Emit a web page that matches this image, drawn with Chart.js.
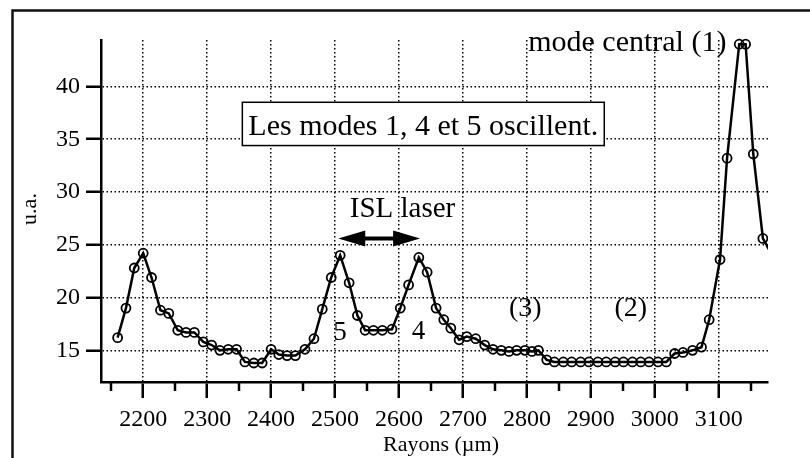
<!DOCTYPE html>
<html>
<head>
<meta charset="utf-8">
<script src="https://cdn.jsdelivr.net/npm/chart.js@4.4.1/dist/chart.umd.min.js"></script>
<style>
  html, body { margin: 0; padding: 0; background: #fff; }
  #wrap { width: 810px; height: 458px; }
</style>
</head>
<body>
<div id="wrap"><canvas id="chart" width="810" height="458"></canvas></div>
<script>
'use strict';

// radial position (µm) and signal (u.a.) of each sample
var radii = [2160, 2173, 2186, 2200, 2213, 2227, 2240, 2254, 2267, 2280,
	2294, 2307, 2320, 2333, 2346, 2359, 2373, 2386, 2400, 2412,
	2425, 2438, 2453, 2467, 2480, 2494, 2508, 2522, 2535, 2547,
	2560, 2574, 2589, 2602, 2615, 2631, 2644, 2658, 2670, 2681,
	2694, 2706, 2720, 2734, 2747, 2760, 2772, 2784, 2797, 2808,
	2818, 2831, 2843, 2857, 2870, 2884, 2897, 2911, 2924, 2938,
	2951, 2965, 2978, 2991, 3005, 3018, 3031, 3044, 3059, 3073,
	3085, 3102, 3113, 3132, 3142, 3154, 3169, 3180];
var intensity = [16.2, 19.0, 22.8, 24.2, 21.9, 18.8, 18.5, 16.9, 16.7, 16.7,
	15.8, 15.5, 15.0, 15.1, 15.1, 13.9, 13.8, 13.8, 15.1, 14.6,
	14.5, 14.5, 15.1, 16.1, 18.9, 21.9, 24.0, 21.4, 18.3, 16.9,
	16.9, 16.9, 17.0, 19.0, 21.2, 23.8, 22.4, 19.0, 17.9, 17.1,
	16.0, 16.3, 16.1, 15.5, 15.1, 15.0, 14.9, 15.0, 15.0, 14.9,
	15.0, 14.1, 13.9, 13.9, 13.9, 13.9, 13.9, 13.9, 13.9, 13.9,
	13.9, 13.9, 13.9, 13.9, 13.9, 13.9, 14.7, 14.8, 15.0, 15.3,
	17.9, 23.6, 33.2, 44.0, 44.0, 33.6, 25.6, 24.4];

var xTicks = [2200, 2300, 2400, 2500, 2600, 2700, 2800, 2900, 3000, 3100];
var xMinorTicks = [2150, 2250, 2350, 2450, 2550, 2650, 2750, 2850, 2950, 3050, 3150];
var yTicks = [15, 20, 25, 30, 35, 40];

var SERIF = '"Liberation Serif", "Times New Roman", serif';

// text notes placed in data units: [text, x, y, size, align]
var notes = [
	['mode central (1)', 3112, 43.4, 30, 'right'],
	['ISL laser', 2523, 27.6, 29, 'left'],
	['5', 2497, 15.95, 27, 'left'],
	['4', 2620, 16.1, 27, 'left'],
	['(3)', 2772, 18.3, 28, 'left'],
	['(2)', 2937, 18.3, 28, 'left']
];
var boxNote = ['Les modes 1, 4 et 5 oscillent.', 2355, 34.4, 38.5, 30];
var islArrow = [2505, 2633, 25.6];

var decor = {
	id: 'decor',
	beforeDraw: function(chart) {
		var ctx = chart.ctx;
		ctx.save();
		ctx.fillStyle = '#fff';
		ctx.fillRect(0, 0, chart.width, chart.height);
		// outer frame, left and top edges
		ctx.strokeStyle = '#111';
		ctx.lineWidth = 2.5;
		ctx.beginPath();
		ctx.moveTo(12.5, chart.height);
		ctx.lineTo(12.5, 10.5);
		ctx.lineTo(chart.width, 10.5);
		ctx.stroke();
		ctx.restore();
	},
	afterDraw: function(chart) {
		var ctx = chart.ctx;
		var xs = chart.scales.x, ys = chart.scales.y;
		var area = chart.chartArea;
		ctx.save();

		// minor ticks under the x axis
		ctx.strokeStyle = '#000';
		ctx.lineWidth = 2.5;
		xMinorTicks.forEach(function(v) {
			var px = Math.round(xs.getPixelForValue(v));
			ctx.beginPath();
			ctx.moveTo(px, area.bottom);
			ctx.lineTo(px, area.bottom + 9);
			ctx.stroke();
		});

		ctx.fillStyle = '#000';
		ctx.textBaseline = 'alphabetic';
		notes.forEach(function(n) {
			ctx.font = n[3] + 'px ' + SERIF;
			ctx.textAlign = n[4];
			ctx.fillText(n[0], xs.getPixelForValue(n[1]), ys.getPixelForValue(n[2]));
		});

		// boxed remark
		ctx.font = boxNote[4] + 'px ' + SERIF;
		ctx.textAlign = 'left';
		var bx = xs.getPixelForValue(boxNote[1]);
		var by0 = ys.getPixelForValue(boxNote[3]);
		var by1 = ys.getPixelForValue(boxNote[2]);
		var bw = ctx.measureText(boxNote[0]).width + 12;
		ctx.fillStyle = '#fff';
		ctx.fillRect(bx, by0, bw, by1 - by0);
		ctx.strokeStyle = '#000';
		ctx.lineWidth = 1.5;
		ctx.strokeRect(bx, by0, bw, by1 - by0);
		ctx.fillStyle = '#000';
		ctx.fillText(boxNote[0], bx + 6, by1 - 11);

		// double arrow between the two side modes
		var ax0 = xs.getPixelForValue(islArrow[0]);
		var ax1 = xs.getPixelForValue(islArrow[1]);
		var ay = ys.getPixelForValue(islArrow[2]);
		ctx.lineWidth = 4;
		ctx.beginPath();
		ctx.moveTo(ax0 + 20, ay);
		ctx.lineTo(ax1 - 20, ay);
		ctx.stroke();
		ctx.beginPath();
		ctx.moveTo(ax0, ay);
		ctx.lineTo(ax0 + 27, ay - 8);
		ctx.lineTo(ax0 + 27, ay + 8);
		ctx.closePath();
		ctx.moveTo(ax1, ay);
		ctx.lineTo(ax1 - 27, ay - 8);
		ctx.lineTo(ax1 - 27, ay + 8);
		ctx.closePath();
		ctx.fill();

		// axis titles
		ctx.font = '22px ' + SERIF;
		ctx.textAlign = 'center';
		ctx.textBaseline = 'middle';
		ctx.fillText('Rayons (µm)', 441, 445);
		ctx.translate(30, 209);
		ctx.rotate(-Math.PI / 2);
		ctx.fillText('u.a.', 0, 0);
		ctx.restore();
	}
};

var ctx = document.getElementById('chart').getContext('2d');
var chart = new Chart(ctx, {
	type: 'line',
	data: {
		datasets: [{
			data: radii.map(function(r, i) { return {x: r, y: intensity[i]}; }),
			borderColor: '#000',
			borderWidth: 2.5,
			pointRadius: function(c) { return c.dataIndex === radii.length - 1 ? 0 : 4.5; },
			pointBorderWidth: 1.8,
			pointBorderColor: '#000',
			pointBackgroundColor: 'rgba(0,0,0,0)',
			tension: 0,
			clip: {left: 0, top: 8, right: 0, bottom: 0}
		}]
	},
	options: {
		responsive: false,
		animation: false,
		devicePixelRatio: 1,
		layout: {padding: {left: 14, right: 42, top: 40, bottom: 0}},
		plugins: {
			legend: {display: false},
			tooltip: {enabled: false}
		},
		scales: {
			x: {
				type: 'linear',
				min: 2134,
				max: 3177,
				afterBuildTicks: function(scale) {
					scale.ticks = xTicks.map(function(v) { return {value: v}; });
				},
				afterFit: function(scale) { scale.height = 76; },
				ticks: {
					color: '#000',
					padding: 7,
					maxRotation: 0,
					font: {family: SERIF, size: 24},
					callback: function(v) { return String(v); }
				},
				grid: {
					color: '#000',
					lineWidth: 1.5,
					tickLength: 16,
					tickWidth: 2.5,
					tickColor: '#000'
				},
				border: {color: '#000', width: 2.5, dash: [1.5, 2.5]}
			},
			y: {
				min: 12,
				max: 44.4,
				afterBuildTicks: function(scale) {
					scale.ticks = yTicks.map(function(v) { return {value: v}; });
				},
				afterFit: function(scale) { scale.width = 87; },
				ticks: {
					color: '#000',
					padding: 6,
					font: {family: SERIF, size: 24},
					callback: function(v) { return String(v); }
				},
				grid: {
					color: '#000',
					lineWidth: 1.5,
					tickLength: 15,
					tickWidth: 2.5,
					tickColor: '#000'
				},
				border: {color: '#000', width: 2.5, dash: [1.5, 2.5]}
			}
		}
	},
	plugins: [decor]
});
</script>
</body>
</html>
